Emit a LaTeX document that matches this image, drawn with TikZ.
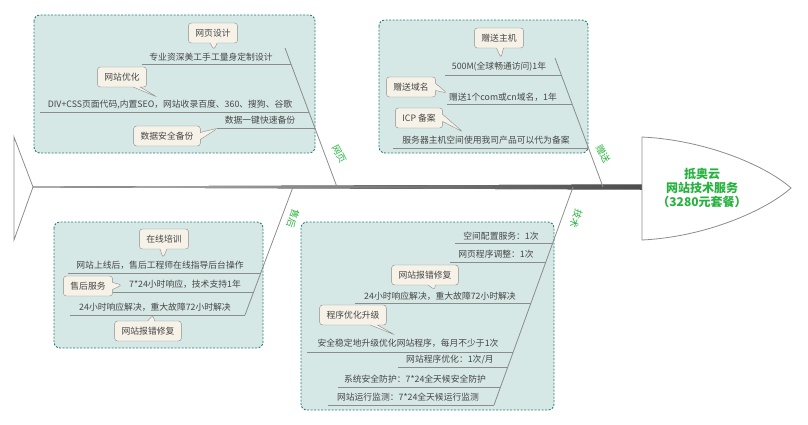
\documentclass[tikz,border=0pt]{standalone}
\usepackage{fontspec}
\setmainfont{Noto Sans CJK SC}
\usepackage{tikz}
\usetikzlibrary{shapes.callouts,positioning}

\definecolor{boxfill}{RGB}{214,232,230}
\definecolor{boxline}{RGB}{38,128,122}
\definecolor{tipfill}{RGB}{246,242,232}
\definecolor{tipline}{RGB}{140,140,140}
\definecolor{txt}{RGB}{70,70,70}
\definecolor{fishgreen}{RGB}{38,178,62}
\definecolor{bonegray}{RGB}{140,140,140}

\begin{document}
\begin{tikzpicture}[
x=1pt,y=-1pt,
area/.style={draw=boxline,fill=boxfill,dash pattern=on 2pt off 1.5pt,line width=.9pt,rounded corners=6pt},
tip/.style={rectangle callout,draw=tipline,fill=tipfill,rounded corners=3pt,minimum height=20pt,inner xsep=7pt,inner ysep=2pt,text=txt,font=\fontsize{8.8}{10}\selectfont,callout pointer width=7pt},
twig/.style={draw=bonegray,line width=.7pt},
twigtext/.style={text=txt,font=\fontsize{8.8}{10}\selectfont,inner sep=0pt},
bone/.style={draw=bonegray,line width=.8pt},
bonelabel/.style={text=fishgreen,font=\fontsize{9.5}{10}\selectfont,inner sep=0pt},
headtext/.style={text=fishgreen,font=\fontsize{12}{14}\selectfont\bfseries,align=center}
]
\useasboundingbox (0,0) rectangle (808,424);

% areas
\draw[area] (34,15) rectangle (315,153);
\draw[area] (379,20) rectangle (588,153);
\draw[area] (54,222) rectangle (263,348);
\draw[area] (301,222) rectangle (554,410);

% tail, spine and head
\coordinate (tailT) at (14,137);
\coordinate (tailB) at (14,240);
\coordinate (tail) at (33,187);
\coordinate (neck) at (642,187);
\draw[bone] (tailT) -- (tail) -- (tailB) -- cycle;
\fill[left color=bonegray!60,right color=black!70] (33,186.6) -- (642,184.5) -- (642,189.5) -- (33,187.4) -- cycle;
\draw[bone,fill=white] (642,137) .. controls (705,140) and (765,165) .. (791,188)
  .. controls (765,211) and (705,237) .. (642,240) -- cycle;
\node[headtext] (head) at (702,188) {抵奥云\\网站技术服务\\（3280元套餐）};

% branches
\coordinate (webT) at (285,48);   \coordinate (webB) at (337,187);
\coordinate (giftT) at (555,58);  \coordinate (giftB) at (603,187);
\coordinate (careT) at (293,187); \coordinate (careB) at (245,315);
\coordinate (techT) at (573,187); \coordinate (techB) at (494,405);
\draw[bone] (webT) -- (webB);
\draw[bone] (giftT) -- (giftB);
\draw[bone] (careT) -- (careB);
\draw[bone] (techT) -- (techB);
\node[bonelabel,rotate=-62] (weblbl) at (339,154) {网页};
\node[bonelabel,rotate=-62] (giftlbl) at (603,154) {赠送};
\node[bonelabel,rotate=-110] (carelbl) at (293,219) {售后};
\node[bonelabel,rotate=-110] (techlbl) at (576,219) {技术};

% web
\coordinate (w1a) at (142,64);  \coordinate (w1b) at (291,64);
\coordinate (w2a) at (40,112);  \coordinate (w2b) at (309,112);
\coordinate (w3a) at (217,128); \coordinate (w3b) at (315,128);
\draw[twig] (w1a) -- (w1b);
\draw[twig] (w2a) -- (w2b);
\draw[twig] (w3a) -- (w3b);
\node[twigtext] (w1t) at (211,57) {专业资深美工手工量身定制设计};
\node[twigtext] (w2t) at (170,105) {DIV+CSS页面代码,内置SEO，网站收录百度、360、搜狗、谷歌};
\node[twigtext] (w3t) at (260,120) {数据一键快速备份};
\node[tip,callout absolute pointer={(214,50)}] (w1c) at (213,33) {网页设计};
\node[tip,callout absolute pointer={(157,97)}] (w2c) at (122,77) {网站优化};
\node[tip,callout absolute pointer={(218,128)}] (w3c) at (167,136) {数据安全备份};

% gift
\coordinate (g1a) at (445,75);  \coordinate (g1b) at (561,75);
\coordinate (g2a) at (447,104); \coordinate (g2b) at (572,104);
\coordinate (g3a) at (393,148); \coordinate (g3b) at (588,148);
\draw[twig] (g1a) -- (g1b);
\draw[twig] (g2a) -- (g2b);
\draw[twig] (g3a) -- (g3b);
\node[twigtext] (g1t) at (499,67) {500M(全球畅通访问)1年};
\node[twigtext] (g2t) at (503,97) {赠送1个com或cn域名，1年};
\node[twigtext] (g3t) at (486,140) {服务器主机空间使用我司产品可以代为备案};
\node[tip,callout absolute pointer={(501,58)}] (g1c) at (499,38) {赠送主机};
\node[tip,callout absolute pointer={(447,93)}] (g2c) at (411,87) {赠送域名};
\node[tip,callout absolute pointer={(463,132)}] (g3c) at (419,118) {ICP 备案};

% after-sales
\coordinate (c1a) at (68,273);  \coordinate (c1b) at (261,273);
\coordinate (c2a) at (113,292); \coordinate (c2b) at (254,292);
\coordinate (c3a) at (70,315);  \coordinate (c3b) at (245,315);
\draw[twig] (c1a) -- (c1b);
\draw[twig] (c2a) -- (c2b);
\draw[twig] (c3a) -- (c3b);
\node[twigtext] (c1t) at (160,265) {网站上线后，售后工程师在线指导后台操作};
\node[twigtext] (c2t) at (185,284) {7*24小时响应，技术支持1年};
\node[twigtext] (c3t) at (155,307) {24小时响应解决，重大故障72小时解决};
\node[tip,callout absolute pointer={(163,258)}] (c1c) at (164,239) {在线培训};
\node[tip,callout absolute pointer={(122,285)}] (c2c) at (88,286) {售后服务};
\node[tip,callout absolute pointer={(153,315)}] (c3c) at (148,331) {网站报错修复};

% tech
\coordinate (t1a) at (455,243); \coordinate (t1b) at (553,243);
\coordinate (t2a) at (450,262); \coordinate (t2b) at (546,262);
\coordinate (t3a) at (355,303); \coordinate (t3b) at (531,303);
\coordinate (t4a) at (307,352); \coordinate (t4b) at (513,352);
\coordinate (t5a) at (398,367); \coordinate (t5b) at (508,367);
\coordinate (t6a) at (338,387); \coordinate (t6b) at (500,387);
\coordinate (t7a) at (328,405); \coordinate (t7b) at (494,405);
\draw[twig] (t1a) -- (t1b);
\draw[twig] (t2a) -- (t2b);
\draw[twig] (t3a) -- (t3b);
\draw[twig] (t4a) -- (t4b);
\draw[twig] (t5a) -- (t5b);
\draw[twig] (t6a) -- (t6b);
\draw[twig] (t7a) -- (t7b);
\node[twigtext] (t1t) at (501,236) {空间配置服务：1次};
\node[twigtext] (t2t) at (496,254) {网页程序调整：1次};
\node[twigtext] (t3t) at (440,296) {24小时响应解决，重大故障72小时解决};
\node[twigtext] (t4t) at (408,343) {安全稳定地升级优化网站程序，每月不少于1次};
\node[twigtext] (t5t) at (450,360) {网站程序优化：1次/月};
\node[twigtext] (t6t) at (415,379) {系统安全防护：7*24全天候安全防护};
\node[twigtext] (t7t) at (408,397) {网站运行监测：7*24全天候运行监测};
\node[tip,callout absolute pointer={(435,290)}] (t3c) at (425,275) {网站报错修复};
\node[tip,callout absolute pointer={(395,335)}] (t4c) at (353,315) {程序优化升级};
\end{tikzpicture}
\end{document}
